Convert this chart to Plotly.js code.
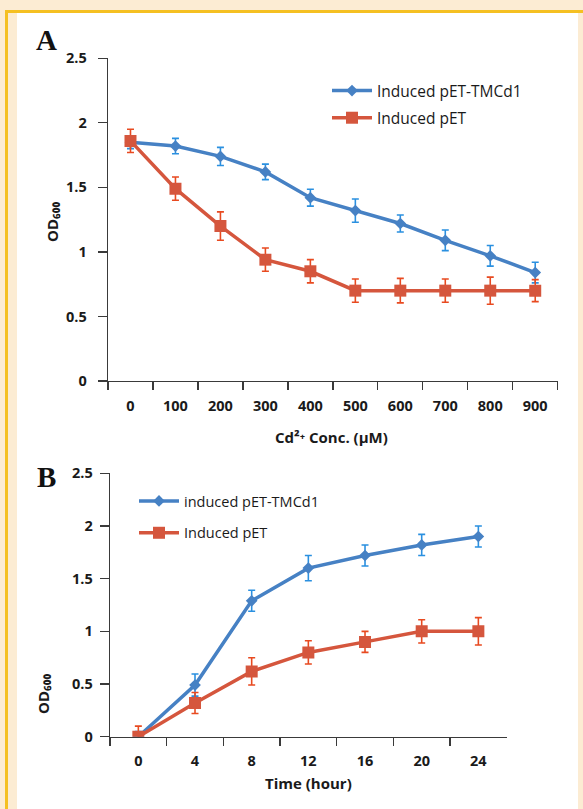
<!DOCTYPE html>
<html><head><meta charset="utf-8">
<script src="https://cdn.plot.ly/plotly-3.0.1.min.js"></script>
<style>
html,body{margin:0;padding:0;width:583px;height:809px;overflow:hidden;background:#fcecd3;}
#frameV{position:absolute;left:5px;top:10px;width:3px;height:799px;background:#f5c022;}
#frameH{position:absolute;left:5px;top:10px;width:578px;height:3px;background:#f5c022;}
#panel{position:absolute;left:17px;top:13px;width:561px;height:796px;background:#fff;}
#chart{position:absolute;left:0;top:0;width:583px;height:809px;}
</style></head><body>
<div id="frameV"></div><div id="frameH"></div><div id="panel"></div><div id="chart"></div>
<script>
// Panel A: OD600 vs Cd2+ concentration
const concLabels = ['0','100','200','300','400','500','600','700','800','900'];
const tmcd1Conc = [1.85,1.82,1.74,1.62,1.42,1.32,1.22,1.09,0.97,0.84];
const tmcd1ConcErr = [0.05,0.06,0.07,0.06,0.065,0.09,0.066,0.08,0.08,0.08];
const petConc = [1.86,1.49,1.2,0.94,0.85,0.7,0.7,0.7,0.7,0.7];
const petConcErr = [0.09,0.09,0.11,0.09,0.09,0.09,0.095,0.09,0.105,0.085];
// Panel B: OD600 vs time
const timeLabels = ['0','4','8','12','16','20','24'];
const tmcd1Time = [0,0.49,1.29,1.6,1.72,1.82,1.9];
const tmcd1TimeErr = [0.05,0.105,0.1,0.12,0.1,0.1,0.1];
const petTime = [0,0.32,0.62,0.8,0.9,1.0,1.0];
const petTimeErr = [0.1,0.1,0.13,0.11,0.1,0.11,0.13];
const nameTmcd1A = 'Induced pET-TMCd1';
const nameTmcd1B = 'induced pET-TMCd1';
const namePet = 'Induced pET';
const yTitle = 'OD₆₀₀';
const xTitleA = 'Cd²⁺ Conc. (μM)';
const xTitleB = 'Time (hour)';

const W = 583, H = 809;
const px = v => v / W;
const py = v => 1 - v / H;

const blue = '#4681c4', red = '#d5563d';
const blueErr = '#2a90e0', redErr = '#e84a20';
const axisCol = '#3a3a3a';
const tickFont = {family:'"Open Sans", sans-serif', size:14.5, color:'#1a1a1a', weight:'bold'};

function blueTrace(x, y, e, name, xa, ya, leg){
  return {x:x, y:y, name:name, type:'scatter', mode:'lines+markers', xaxis:xa, yaxis:ya, legend:leg,
    legendgroup:leg+'b',
    line:{color:blue, width:3.5}, marker:{symbol:'diamond', size:9, color:blue},
    error_y:{type:'data', array:e, visible:true, color:blueErr, thickness:1.6, width:3.5}};
}
function redTrace(x, y, e, name, xa, ya, leg){
  return {x:x, y:y, name:name, type:'scatter', mode:'lines+markers', xaxis:xa, yaxis:ya, legend:leg,
    legendgroup:leg+'r',
    line:{color:red, width:3.5}, marker:{symbol:'square', size:12, color:red},
    error_y:{type:'data', array:e, visible:true, color:redErr, thickness:1.6, width:3.5}};
}

const data = [
  blueTrace(concLabels, tmcd1Conc, tmcd1ConcErr, nameTmcd1A, 'x', 'y', 'legend'),
  redTrace(concLabels, petConc, petConcErr, namePet, 'x', 'y', 'legend'),
  blueTrace(timeLabels, tmcd1Time, tmcd1TimeErr, nameTmcd1B, 'x2', 'y2', 'legend2'),
  redTrace(timeLabels, petTime, petTimeErr, namePet, 'x2', 'y2', 'legend2')
];

function xAxis(domain, anchor, n, standoff){
  return {domain:domain, anchor:anchor, type:'category', range:[-0.5, n-0.5], tickson:'boundaries',
    ticks:'outside', ticklen:8, tickwidth:1.3, tickcolor:axisCol, showline:true, linecolor:axisCol,
    linewidth:1.3, showgrid:false, zeroline:false, tickfont:tickFont, ticklabelstandoff:standoff, fixedrange:true};
}
function yAxis(domain, anchor, standoff){
  return {domain:domain, anchor:anchor, range:[0,2.5], tick0:0, dtick:0.5,
    ticks:'outside', ticklen:9, tickwidth:1.3, tickcolor:axisCol, showline:true, linecolor:axisCol,
    linewidth:1.3, showgrid:false, zeroline:false, tickfont:tickFont, ticklabelstandoff:standoff, fixedrange:true};
}

const titleFont = {family:'"Open Sans", "DejaVu Sans", sans-serif', size:15, color:'#1a1a1a', weight:'bold'};
const panelFont = {family:'"Liberation Serif", serif', size:29, color:'#111', weight:'bold'};

const layout = {
  width:W, height:H, margin:{l:0,r:0,t:0,b:0},
  paper_bgcolor:'rgba(0,0,0,0)', plot_bgcolor:'rgba(0,0,0,0)',
  showlegend:true,
  xaxis: xAxis([px(108), px(557.7)], 'y', concLabels.length, 11),
  yaxis: yAxis([py(381), py(58.3)], 'x', 8),
  xaxis2: xAxis([px(110), px(506.7)], 'y2', timeLabels.length, 11),
  yaxis2: yAxis([py(736.7), py(473.3)], 'x2', 4),
  legend:{x:px(327), y:py(74), xanchor:'left', yanchor:'top', bgcolor:'rgba(0,0,0,0)',
    font:{family:'"Open Sans", sans-serif', size:15.5, color:'#1a1a1a'}, traceorder:'grouped', tracegroupgap:4, itemwidth:40},
  legend2:{x:px(134), y:py(485), xanchor:'left', yanchor:'top', bgcolor:'rgba(0,0,0,0)',
    font:{family:'"Open Sans", sans-serif', size:14.5, color:'#1a1a1a'}, traceorder:'grouped', tracegroupgap:10, itemwidth:40},
  annotations:[
    {text:'A', x:px(34), y:py(40), xref:'paper', yref:'paper', xanchor:'left', yanchor:'middle', showarrow:false, font:panelFont},
    {text:'B', x:px(35), y:py(476.5), xref:'paper', yref:'paper', xanchor:'left', yanchor:'middle', showarrow:false, font:panelFont},
    {text:yTitle, x:px(52), y:py(222), xref:'paper', yref:'paper', xanchor:'center', yanchor:'middle', textangle:-90, showarrow:false, font:titleFont},
    {text:yTitle, x:px(43), y:py(694), xref:'paper', yref:'paper', xanchor:'center', yanchor:'middle', textangle:-90, showarrow:false, font:titleFont},
    {text:xTitleA, x:px(331), y:py(437), xref:'paper', yref:'paper', xanchor:'center', yanchor:'middle', showarrow:false, font:titleFont},
    {text:xTitleB, x:px(308), y:py(783), xref:'paper', yref:'paper', xanchor:'center', yanchor:'middle', showarrow:false, font:titleFont}
  ]
};

Plotly.newPlot('chart', data, layout, {displayModeBar:false, staticPlot:true});
</script>
</body></html>
